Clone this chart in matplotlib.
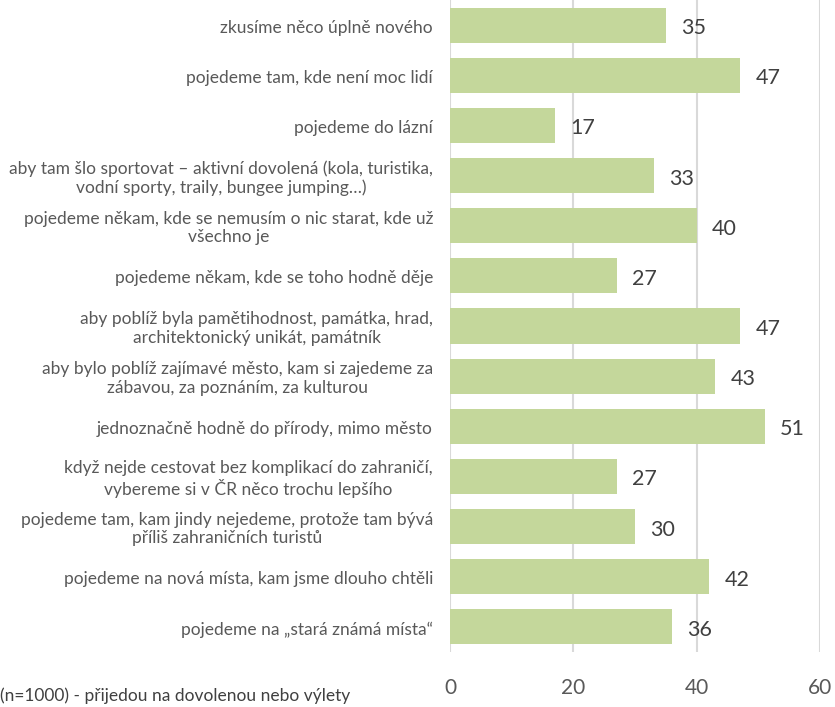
import matplotlib
matplotlib.use("Agg")
import matplotlib.pyplot as plt
from matplotlib.transforms import blended_transform_factory, ScaledTranslation

categories = [
    "zkusíme něco úplně nového",
    "pojedeme tam, kde není moc lidí",
    "pojedeme do lázní",
    "aby tam šlo sportovat – aktivní dovolená (kola, turistika,\nvodní sporty, traily, bungee jumping…)",
    "pojedeme někam, kde se nemusím o nic starat, kde už\nvšechno je",
    "pojedeme někam, kde se toho hodně děje",
    "aby poblíž byla pamětihodnost, památka, hrad,\narchitektonický unikát, památník",
    "aby bylo poblíž zajímavé město, kam si zajedeme za\nzábavou, za poznáním, za kulturou",
    "jednoznačně hodně do přírody, mimo město",
    "když nejde cestovat bez komplikací do zahraničí,\nvybereme si v ČR něco trochu lepšího",
    "pojedeme tam, kam jindy nejedeme, protože tam bývá\npříliš zahraničních turistů",
    "pojedeme na nová místa, kam jsme dlouho chtěli",
    "pojedeme na „stará známá místa“",
]
values = [35, 47, 17, 33, 40, 27, 47, 43, 51, 27, 30, 42, 36]
xticks = [0, 20, 40, 60]
footnote = "(n=1000) - přijedou na dovolenou nebo výlety"

plt.rcParams['font.family'] = ['Lato', 'DejaVu Sans']

fig = plt.figure(figsize=(8.35, 7.07), dpi=100)
ax = fig.add_axes([450/835, (707-652)/707, 370/835, 652/707])

y = list(range(len(categories)))
ax.barh(y, values, height=0.7, color="#c4d79b", zorder=2)
ax.set_xlim(0, 60)
ax.set_ylim(len(categories) - 0.5, -0.5)
ax.set_xticks(xticks)
ax.set_xticklabels([str(t) for t in xticks], fontsize=15, color="#595959")
ax.set_yticks([])
ax.tick_params(axis="x", length=0, pad=19)
ax.grid(axis="x", color="#d9d9d9", linewidth=1.5, zorder=0)
for s in ax.spines.values():
    s.set_visible(False)

trans = blended_transform_factory(ax.transAxes, ax.transData) + \
    ScaledTranslation(-17/100, -2.5/100, fig.dpi_scale_trans)
for yi, cat in zip(y, categories):
    ax.text(0, yi, cat, transform=trans, ha="right", va="center",
            multialignment="center", fontsize=12.5, color="#595959",
            linespacing=1.2)

for yi, v in zip(y, values):
    ax.text(v + 2.5, yi + 0.06, str(v), va="center", ha="left", fontsize=15.5,
            color="#404040")

fig.text(0.5/835, 1 - 696/707, footnote, fontsize=12.5, color="#404040",
         ha="left", va="center")

fig.savefig("out.png", dpi=100)
